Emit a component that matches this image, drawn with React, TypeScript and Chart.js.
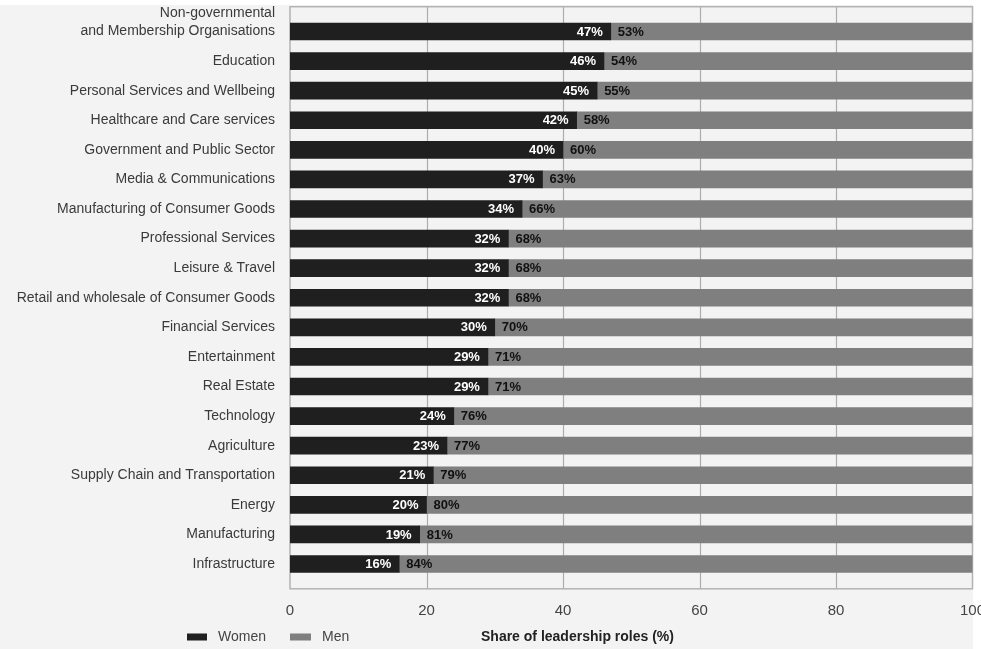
import React, { useEffect, useRef } from "react";
import { Chart, registerables } from "chart.js";

Chart.register(...registerables);

const categories: (string | string[])[] = [
  ["Non-governmental", "and Membership Organisations", ""],
  "Education",
  "Personal Services and Wellbeing",
  "Healthcare and Care services",
  "Government and Public Sector",
  "Media & Communications",
  "Manufacturing of Consumer Goods",
  "Professional Services",
  "Leisure & Travel",
  "Retail and wholesale of Consumer Goods",
  "Financial Services",
  "Entertainment",
  "Real Estate",
  "Technology",
  "Agriculture",
  "Supply Chain and Transportation",
  "Energy",
  "Manufacturing",
  "Infrastructure",
];

const women = [47, 46, 45, 42, 40, 37, 34, 32, 32, 32, 30, 29, 29, 24, 23, 21, 20, 19, 16];
const men = [53, 54, 55, 58, 60, 63, 66, 68, 68, 68, 70, 71, 71, 76, 77, 79, 80, 81, 84];

const xTicks = [0, 20, 40, 60, 80, 100];
const legendLabels = ["Women", "Men"];
const axisTitle = "Share of leadership roles (%)";

const FONT = "'Liberation Sans', Arial, Helvetica, sans-serif";
const WOMEN_COLOR = "#1f1f1f";
const MEN_COLOR = "#7f7f7f";
const BG = "#f3f3f3";

const bgPlugin = {
  id: "bgPlugin",
  beforeDraw(chart: any) {
    const { ctx, chartArea, scales } = chart;
    const ext = 10;
    ctx.save();
    ctx.fillStyle = "#ffffff";
    ctx.fillRect(0, 0, chart.width, chart.height);
    ctx.fillStyle = BG;
    ctx.fillRect(0, 5, 973, chart.height - 5);
    const top = chartArea.top - ext;
    const bottom = chartArea.bottom + ext;
    ctx.strokeStyle = "#adadad";
    ctx.lineWidth = 1.2;
    xTicks.forEach((t) => {
      if (t === 0 || t === 100) return;
      const x = Math.round(scales.x.getPixelForValue(t)) + 0.5;
      ctx.beginPath();
      ctx.moveTo(x, top);
      ctx.lineTo(x, bottom);
      ctx.stroke();
    });
    ctx.strokeStyle = "#b3b3b3";
    ctx.lineWidth = 1.5;
    const l = scales.x.getPixelForValue(0);
    const r = scales.x.getPixelForValue(100);
    ctx.strokeRect(l, top, r - l, bottom - top);
    ctx.restore();
  },
  afterDraw(chart: any) {
    const { ctx } = chart;
    ctx.save();
    ctx.textBaseline = "middle";
    ctx.textAlign = "left";
    const y = 637;
    ctx.fillStyle = WOMEN_COLOR;
    ctx.fillRect(187, 633.5, 20, 7);
    ctx.fillStyle = MEN_COLOR;
    ctx.fillRect(290, 633.5, 21, 7);
    ctx.fillStyle = "#444";
    ctx.font = `14px ${FONT}`;
    ctx.fillText(legendLabels[0], 218, y);
    ctx.fillText(legendLabels[1], 322, y);
    ctx.fillStyle = "#222";
    ctx.font = `bold 14px ${FONT}`;
    ctx.fillText(axisTitle, 481, y);
    ctx.restore();
  },
};

const labelPlugin = {
  id: "labelPlugin",
  afterDatasetsDraw(chart: any) {
    const { ctx } = chart;
    ctx.save();
    ctx.font = `bold 13px ${FONT}`;
    ctx.textBaseline = "middle";
    const mw = chart.getDatasetMeta(0);
    const mm = chart.getDatasetMeta(1);
    mw.data.forEach((bar: any, i: number) => {
      ctx.fillStyle = "#ffffff";
      ctx.textAlign = "right";
      ctx.fillText(`${women[i]}%`, bar.x - 8, bar.y + 0.5);
    });
    mm.data.forEach((bar: any, i: number) => {
      ctx.fillStyle = "#111111";
      ctx.textAlign = "left";
      ctx.fillText(`${men[i]}%`, bar.base + 7, bar.y + 0.5);
    });
    ctx.restore();
  },
};

export default function App() {
  const ref = useRef<HTMLCanvasElement | null>(null);
  useEffect(() => {
    if (!ref.current) return;
    const chart = new Chart(ref.current, {
      type: "bar",
      data: {
        labels: categories as any,
        datasets: [
          { label: legendLabels[0], data: women, backgroundColor: WOMEN_COLOR, barThickness: 17 },
          { label: legendLabels[1], data: men, backgroundColor: MEN_COLOR, barThickness: 17 },
        ],
      },
      options: {
        indexAxis: "y",
        responsive: false,
        animation: false,
        layout: { padding: { top: 16.7, right: 8.5, bottom: 0, left: 0 } },
        plugins: { legend: { display: false }, tooltip: { enabled: false } },
        scales: {
          x: {
            stacked: true,
            min: 0,
            max: 100,
            grid: { display: false, drawTicks: false },
            border: { display: false },
            ticks: {
              stepSize: 20,
              padding: 23,
              color: "#444",
              font: { family: FONT, size: 15 },
              maxRotation: 0,
            },
            afterFit: (s: any) => {
              s.height = 70.2;
              s.paddingLeft = 0;
              s.paddingRight = 0;
            },
          },
          y: {
            stacked: true,
            grid: { display: false, drawTicks: false },
            border: { display: false },
            ticks: {
              padding: 15,
              color: "#3a3a3a",
              font: { family: FONT, size: 14, lineHeight: 1.3 },
              autoSkip: false,
            },
            afterFit: (s: any) => {
              s.width = 290;
              s.paddingTop = 0;
              s.paddingBottom = 0;
            },
          },
        },
      },
      plugins: [bgPlugin, labelPlugin],
    });
    return () => chart.destroy();
  }, []);
  return (
    <div style={{ position: "absolute", left: 0, top: 0, width: 981, height: 649 }}>
      <canvas ref={ref} width={981} height={649} style={{ display: "block", width: 981, height: 649 }} />
    </div>
  );
}
